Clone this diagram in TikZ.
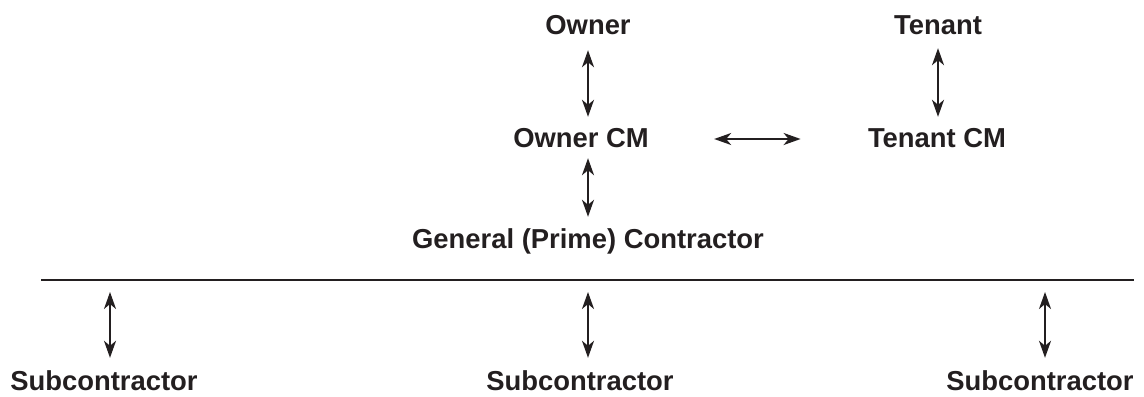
\documentclass[tikz,border=0pt]{standalone}
\usepackage{fontspec}
\setmainfont{Liberation Sans}
\usetikzlibrary{arrows.meta,positioning}
\definecolor{ink}{HTML}{231F20}

\begin{document}
\begin{tikzpicture}[x=0.5pt,y=-0.5pt,
every node/.style={inner sep=0pt, text height=9.8pt, text depth=0pt,
  font=\fontsize{13.7}{16}\selectfont\bfseries, text=ink},
dbl/.style={{Stealth[length=8.5pt,width=6pt,inset=2.5pt]}-{Stealth[length=8.5pt,width=6pt,inset=2.5pt]}, line width=1pt, draw=ink}]
\useasboundingbox (0,0) rectangle (1144,396);
\node (own) at (588,25) {Owner};
\node (ten) at (938,25) {Tenant};
\node (owncm) at (581,138) {Owner CM};
\node (tencm) at (937,138) {Tenant CM};
\node (gen) at (588,239) {General (Prime) Contractor};
\node (sub1) at (104,381) {Subcontractor};
\node (sub2) at (580,381) {Subcontractor};
\node (sub3) at (1040,381) {Subcontractor};
\coordinate (ln1) at (41,280);
\coordinate (ln2) at (1134,280);
\coordinate (s1) at (110,292);
\coordinate (s2) at (588,292);
\coordinate (s3) at (1045,292);
\draw[line width=1pt, draw=ink] (ln1)--(ln2);
\draw[dbl, shorten <=7.5pt, shorten >=5.5pt] (own.south-|588,0)--(owncm.north-|588,0);
\draw[dbl, shorten <=5pt, shorten >=6pt] (owncm.south-|588,0)--(gen.north-|588,0);
\draw[dbl, shorten <=6.5pt, shorten >=5.5pt] (ten.south)--(tencm.north-|938,0);
\draw[dbl, shorten <=32.5pt, shorten >=33.5pt] (owncm.east|-0,139)--(tencm.west|-0,139);
\draw[dbl, shorten >=6.5pt] (s1)--(sub1.north-|s1);
\draw[dbl, shorten >=6.5pt] (s2)--(sub2.north-|s2);
\draw[dbl, shorten >=6.5pt] (s3)--(sub3.north-|s3);
\end{tikzpicture}
\end{document}
